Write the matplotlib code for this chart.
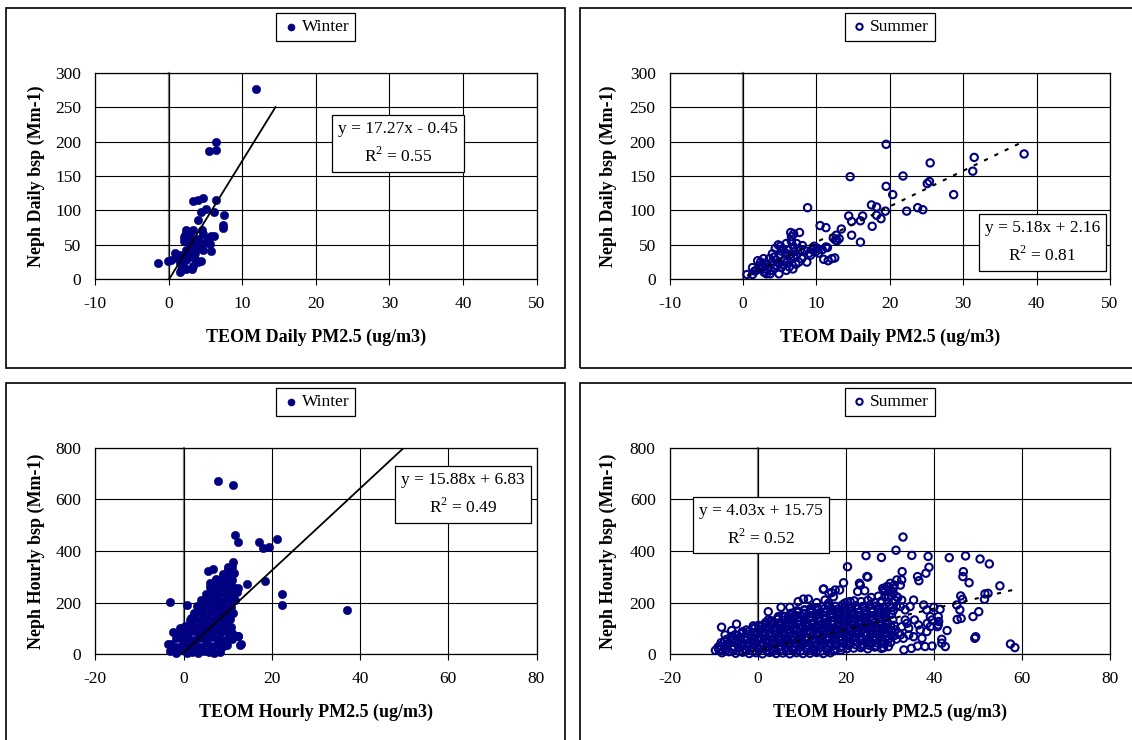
import numpy as np
import matplotlib
matplotlib.use("Agg")
import matplotlib.pyplot as plt
from matplotlib.patches import Rectangle

plt.rcParams["font.family"] = ["Liberation Serif", "DejaVu Serif"]
plt.rcParams["mathtext.fontset"] = "custom"
plt.rcParams["mathtext.rm"] = "Liberation Serif"
plt.rcParams["axes.unicode_minus"] = False

NAVY = "#000080"

# ---- Winter, daily averages (TEOM PM2.5 vs nephelometer bsp)
winter_daily_x = [11.9, 6.45, 5.4, 6.45, 3.3, 4.0, 4.6, 6.4, 5.1, 4.4, 6.2, 7.5, 4.0, 7.3, 7.4,
                  2.4, 3.25, 4.5, 2.2, 2.9, 4.6, 5.75, 3.4, 4.0, 2.0, 5.3, 4.8, 5.7, 3.7, 4.4, 2.4,
                  1.5, 1.1, 0.8, 2.6, 3.25, -1.45, -0.1, 0.35, 1.5, 1.9, 1.7, 2.4, 3.1, 3.3, 4.0, 4.4,
                  1.5, 2.9, 3.6, 2.7, 3.1, 5.6, 4.7, 6.1, 2.3, 1.2, 2.1, 2.8, 3.5]
winter_daily_y = [277, 200, 186, 188, 113, 115, 118, 115, 102, 97, 97, 94, 86, 79, 74,
                  72, 71, 71, 64, 63, 66, 63, 57, 58, 55, 57, 52, 41, 48, 45, 43,
                  36, 31, 38, 33, 33, 24, 27, 28, 23, 18, 13, 15, 15, 20, 25, 26,
                  11, 47, 38, 38, 42, 51, 42, 63, 28, 34, 62, 55, 30]

# ---- Summer, daily averages
summer_daily_x = [19.5, 38.3, 31.5, 31.3, 25.5, 14.6, 21.8, 25.4, 25.1, 19.5, 28.7, 20.4, 17.5, 18.2, 8.8,
                  23.8, 24.5, 22.3, 19.4, 18.2, 18.8, 14.4, 16.3, 16.0, 14.8, 17.6, 10.5, 11.3, 13.4, 6.5,
                  6.9, 7.7, 14.8, 16.0, 12.7, 13.1, 12.6, 12.3, 12.8, 8.7, 11.0, 11.6, 12.1, 12.5,
                  0.55, 1.3, 1.3, 2.0, 2.8, 1.8, 2.5, 3.0, 3.0, 3.7, 3.5, 4.0, 4.0, 4.4, 4.8, 5.1, 5.1, 4.9, 5.2, 5.5,
                  5.9, 6.2, 6.6, 6.9, 7.3, 6.5, 6.9, 6.8, 6.3, 7.6, 8.1, 8.4, 9.2, 9.4, 9.6, 9.9, 10.1, 10.8, 11.3, 11.5,
                  2.2, 2.9, 3.3, 3.8, 4.3, 4.5, 4.2, 5.6, 5.8, 6.0, 6.4, 7.0, 7.3, 7.8, 5.4, 3.6, 2.4, 1.6, 4.6, 7.2,
                  6.6, 5.2, 8.0, 9.0, 10.3, 9.7, 4.9, 3.2, 2.6, 5.9]
summer_daily_y = [196, 182, 177, 157, 169, 149, 150, 142, 139, 135, 123, 123, 108, 105, 104,
                  104, 101, 99, 99, 93, 88, 92, 92, 85, 84, 77, 78, 75, 73, 68,
                  66, 68, 64, 54, 64, 59, 57, 60, 56, 25, 29, 27, 30, 31,
                  7, 7, 17, 27, 30, 13, 21, 23, 11, 8, 18, 37, 25, 45, 50, 48, 35, 23, 17, 21,
                  52, 43, 55, 47, 52, 30, 33, 15, 18, 25, 49, 42, 35, 43, 45, 40, 45, 43, 47, 46,
                  15, 10, 14, 13, 16, 28, 32, 28, 38, 25, 36, 40, 35, 42, 44, 30, 25, 12, 20, 22,
                  62, 41, 30, 38, 38, 48, 8, 8, 18, 13]

# ---- Winter, hourly values (isolated points first, then the dense cloud row by row)
winter_hourly_x = [7.9, 11.3, 11.6, 12.3, 17.0, 17.9, 19.4, 21.1, 18.4, 22.3, 22.4, 37.0, -3.1, 0.7, 11.2,
                   10.0, 11.2, 14.4, 5.5, 6.6, 7.4, 12.3, 13.0, 9.4, -3.5, -2.5, -0.7, 12.2, 12.4, 12.9, 1.8, 6.1,
                   -3.0, -1.8, -0.5, 0.8, 2.0, 3.3, 4.6, 5.8, 7.0, 8.2,
                   -2.8, -1.4, -0.1, 1.2, 2.5, 3.8, 5.0, 6.3, 7.6, 8.8, 9.9,
                   -1.6, -0.3, 1.0, 2.3, 3.6, 4.9, 6.2, 7.5, 8.8, 10.0, 11.0,
                   -0.6, 0.7, 2.0, 3.3, 4.6, 5.9, 7.2, 8.5, 9.8, 11.0,
                   0.4, 1.7, 3.0, 4.3, 5.6, 6.9, 8.2, 9.5, 10.8,
                   1.4, 2.7, 4.0, 5.3, 6.6, 7.9, 9.2, 10.5,
                   2.3, 3.6, 4.9, 6.2, 7.5, 8.8, 10.1, 11.2,
                   3.1, 4.4, 5.7, 7.0, 8.3, 9.6, 10.8,
                   4.0, 5.3, 6.6, 7.9, 9.2, 10.5, 11.6,
                   5.0, 6.3, 7.6, 8.9, 10.2, 11.4,
                   6.0, 7.3, 8.6, 9.9, 11.1, 12.3,
                   7.2, 8.5, 9.8, 11.0,
                   9.0, 10.3, 11.4,
                   10.0, 10.9]
winter_hourly_y = [671, 657, 462, 436, 435, 410, 417, 448, 283, 232, 191, 172, 201, 191, 356,
                   337, 316, 272, 324, 329, 293, 72, 39, 36, 40, 88, 101, 243, 71, 36, 139, 275,
                   12, 6, 15, 4, 10, 5, 13, 7, 4, 10,
                   38, 30, 40, 33, 36, 29, 42, 34, 37, 30, 36,
                   62, 58, 65, 57, 63, 59, 66, 60, 56, 63, 58,
                   88, 83, 90, 84, 87, 82, 89, 85, 90, 82,
                   108, 114, 107, 112, 109, 115, 108, 112, 106,
                   133, 138, 131, 137, 134, 139, 132, 136,
                   158, 163, 157, 162, 159, 164, 157, 161,
                   186, 182, 188, 183, 187, 181, 185,
                   209, 213, 207, 212, 208, 214, 210,
                   233, 238, 232, 237, 234, 239,
                   262, 257, 263, 258, 261, 256,
                   284, 289, 283, 288,
                   311, 306, 313,
                   332, 338]

# ---- Summer, hourly values: scattered points
summer_hourly_out_x = [33.0, 31.4, 24.6, 28.1, 35.0, 38.7, 43.5, 47.2, 50.5, 52.6, 20.4, 38.9, 38.2, 32.8, 46.7,
                       46.6, 36.3, 36.6, 48.0, 25.0, 19.5, 55.0, 51.6, 52.3, 51.5, 46.1, 46.5, 15.0, 16.2, 17.2,
                       23.1, 24.3, 18.6, 35.4, 45.2, 45.9, 45.3, 46.2, 48.9, 50.2, 49.3, 49.5, 57.4, 58.4, 43.0,
                       41.8, 42.6, 41.0, 39.6, 38.0, 36.3, 34.9, 33.2, 28.6, 38.5, 41.0, 41.4, 37.7, 40.0, -8.2,
                       -5.9, -4.8, -7.4, -1.0, 2.4, 5.3, 7.3, 9.2, 10.4, 11.5, 13.4, 2.4, 14.9, 16.8, 17.6,
                       15.3, 16.1, 19.8, 21.0, -4.4, 0.5, 4.7, 7.0, 8.9, 10.6, 12.3, 22.7, 23.3, 24.8, 34.6,
                       35.6, 36.5, 36.9, 34.3, 38.4, 39.2, 39.6, 39.2, 38.4, 35.4, 37.3, 41.8, 40.8, 41.1,
                       30.1, 29.3, 28.6, 31.6, 32.4, 30.8, 29.7, 31.6, 32.7, 32.4, 33.5, 33.5, 32.7, 33.9, 32.4,
                       33.1, 34.3, 32.7]
summer_hourly_out_y = [454, 403, 382, 375, 383, 379, 374, 381, 369, 350, 339, 337, 314, 320, 320,
                       301, 301, 285, 277, 299, 277, 265, 234, 236, 213, 226, 213, 253, 236, 223,
                       275, 246, 249, 210, 191, 172, 135, 139, 146, 165, 62, 68, 40, 26, 92,
                       58, 30, 114, 32, 30, 32, 23, 17, 26, 120, 146, 174, 191, 182, 105,
                       92, 117, 75, 110, 165, 182, 182, 204, 214, 214, 200, 133, 252, 239, 249,
                       210, 198, 198, 204, 62, 94, 146, 146, 168, 172, 174, 243, 268, 301, 185,
                       133, 114, 94, 75, 172, 146, 133, 107, 88, 68, 62, 43, 107, 127,
                       275, 262, 249, 288, 268, 256, 223, 223, 210, 185, 172, 133, 107, 120, 75,
                       62, 101, 288]

# ---- Summer, hourly values: the dense cloud, row by row
summer_hourly_core_x = [
    -9.6, -8.1, -6.5, -5.0, -3.4, -1.9, -0.4, 1.1, 2.7, 4.2, 5.7, 7.3, 8.8, 10.3, 11.9, 13.4, 14.9, 16.5,
    -8.8, -7.3, -5.7, -4.2, -2.6, -1.1, 0.4, 2.0, 3.5, 5.0, 6.6, 8.1, 9.7, 11.2, 12.7, 14.3, 15.8, 17.4, 18.9,
    -9.0, -7.4, -5.8, -4.3, -2.7, -1.2, 0.3, 1.9, 3.4, 4.9, 6.5, 8.0, 9.6, 11.1, 12.6, 14.2, 15.7, 17.3,
    18.8, 20.3, 21.8, 23.4, 25.0, 26.6, 28.1, 29.7,
    -8.6, -7.0, -5.5, -3.9, -2.4, -0.8, 0.7, 2.2, 3.8, 5.3, 6.9, 8.4, 9.9, 11.5, 13.0, 14.6, 16.1, 17.6,
    19.2, 20.7, 22.3, 23.8, 25.3, 26.9,
    -8.3, -6.7, -5.2, -3.6, -2.1, -0.5, 1.0, 2.6, 4.1, 5.6, 7.2, 8.7, 10.3, 11.8, 13.3, 14.9, 16.4, 18.0,
    19.5, 21.0, 22.6, 24.1, 25.6, 27.1, 28.7, 30.2,
    -7.5, -6.0, -4.4, -2.9, -1.3, 0.2, 1.8, 3.3, 4.8, 6.4, 7.9, 9.5, 11.0, 12.5, 14.1, 15.6, 17.2, 18.7,
    20.2, 21.8, 23.3, 24.9, 26.4, 27.9, 29.5,
    -7.0, -5.5, -3.9, -2.4, -0.8, 0.7, 2.2, 3.8, 5.3, 6.9, 8.4, 9.9, 11.5, 13.0, 14.6, 16.1, 17.6, 19.2,
    20.7, 22.3, 23.8, 25.3, 26.9, 28.4, 29.9, 31.5,
    -6.0, -4.5, -2.9, -1.4, 0.2, 1.7, 3.2, 4.8, 6.3, 7.9, 9.4, 10.9, 12.5, 14.0, 15.6, 17.1, 18.6, 20.2,
    21.7, 23.3, 24.8, 26.3, 27.9, 29.4, 31.0,
    -5.1, -3.5, -2.0, -0.4, 1.1, 2.6, 4.2, 5.7, 7.3, 8.8, 10.3, 11.9, 13.4, 15.0, 16.5, 18.0, 19.6, 21.1,
    22.7, 24.2, 25.7, 27.3, 28.8, 30.4, 31.9,
    -3.5, -1.9, -0.4, 1.2, 2.7, 4.2, 5.8, 7.3, 8.9, 10.4, 11.9, 13.5, 15.0, 16.6, 18.1, 19.6, 21.2, 22.7,
    24.3, 25.8, 27.3, 28.9, 30.4,
    -2.6, -1.0, 0.5, 2.0, 3.6, 5.1, 6.7, 8.2, 9.7, 11.3, 12.8, 14.4, 15.9, 17.4, 19.0, 20.5, 22.1, 23.6,
    25.1, 26.7, 28.2, 29.8, 31.3,
    -0.6, 0.9, 2.5, 4.0, 5.6, 7.1, 8.6, 10.2, 11.7, 13.3, 14.8, 16.3, 17.9, 19.4, 21.0, 22.5, 24.0, 25.6,
    27.1, 28.7, 30.2,
    0.2, 1.7, 3.2, 4.8, 6.3, 7.9, 9.4, 10.9, 12.5, 14.0, 15.6, 17.1, 18.6, 20.2, 21.7, 23.3, 24.8, 26.3,
    27.9, 29.4, 31.0,
    1.8, 3.4, 4.9, 6.5, 8.0, 9.5, 11.1, 12.6, 14.2, 15.7, 17.2, 18.8, 20.3, 21.9, 23.4, 24.9, 26.5, 28.0,
    29.6,
    3.0, 4.5, 6.0, 7.6, 9.1, 10.7, 12.2, 13.7, 15.3, 16.8, 18.4, 19.9, 21.4, 23.0, 24.5, 26.1, 27.6, 29.1,
    30.7,
    4.6, 6.1, 7.7, 9.2, 10.8, 12.3, 13.8, 15.4, 16.9, 18.5, 20.0, 21.5, 23.1, 24.6, 26.2, 27.7, 29.2,
    5.8, 7.3, 8.8, 10.4, 11.9, 13.5, 15.0, 16.5, 18.1, 19.6, 21.2, 22.7, 24.2, 25.8, 27.3, 28.9, 30.4,
    7.6, 9.1, 10.6, 12.2, 13.7, 15.3, 16.8, 18.3, 19.9, 21.4, 23.0, 24.5, 26.0, 27.6, 29.1,
    9.2, 10.7, 12.3, 13.8, 15.4, 16.9, 18.4, 20.0, 21.5, 23.1, 24.6, 26.1, 27.7, 29.2, 30.8,
    12.0, 13.5, 15.1, 16.6, 18.2, 19.7, 21.2, 22.8, 24.3, 25.9, 27.4, 28.9, 30.5,
    14.6, 16.1, 17.7, 19.2, 20.8, 22.3, 23.8, 25.4, 26.9, 28.5, 30.0, 31.5,
    20.4, 21.9, 23.5, 25.0, 26.6, 28.1, 29.6, 31.2,
    25.8, 27.4, 28.9, 30.4, 31.8,
    28.9, 30.3, 29.6, 31.0, 28.4, 30.8]
summer_hourly_core_y = [
    15, 6, 10, 4, 8, 3, 6, 2, 7, 3, 5, 2, 6, 3, 4, 7, 3, 6,
    17, 14, 18, 12, 16, 13, 18, 15, 12, 17, 14, 16, 13, 18, 15, 12, 17, 14, 16,
    27, 22, 29, 24, 20, 28, 23, 26, 21, 29, 24, 22, 28, 25, 21, 27, 23, 19,
    26, 22, 24, 26, 21, 28, 23, 30,
    33, 36, 31, 35, 32, 37, 34, 30, 36, 33, 35, 31, 37, 34, 32, 36, 33, 35,
    31, 34, 37, 32, 35, 33,
    45, 40, 47, 42, 38, 46, 41, 44, 39, 47, 42, 40, 45, 43, 38, 46, 41, 39,
    44, 40, 46, 38, 42, 44, 40, 46,
    51, 54, 50, 53, 49, 55, 52, 50, 54, 51, 53, 49, 55, 52, 50, 54, 51, 53,
    49, 52, 55, 50, 53, 51, 54,
    58, 63, 60, 65, 57, 62, 59, 64, 61, 56, 63, 60, 65, 58, 62, 59, 64, 57,
    61, 66, 60, 58, 63, 56, 62, 59,
    69, 72, 68, 71, 67, 73, 70, 68, 72, 69, 71, 67, 73, 70, 68, 72, 69, 71,
    67, 70, 73, 68, 71, 69, 72,
    76, 81, 78, 83, 75, 80, 77, 82, 79, 74, 81, 78, 84, 76, 80, 77, 83, 75,
    79, 82, 76, 80, 78, 74, 81,
    87, 90, 86, 89, 85, 91, 88, 86, 90, 87, 89, 85, 91, 88, 86, 90, 87, 89,
    85, 88, 91, 86, 89,
    94, 99, 96, 101, 93, 98, 95, 100, 97, 92, 99, 96, 102, 94, 98, 95, 101, 93,
    97, 100, 94, 98, 95,
    105, 108, 104, 107, 103, 109, 106, 104, 108, 105, 107, 103, 109, 106, 104, 108, 105, 107,
    103, 106, 109,
    112, 117, 114, 119, 111, 116, 113, 118, 115, 110, 117, 114, 120, 112, 116, 113, 119, 111,
    115, 118, 112,
    123, 126, 122, 125, 121, 127, 124, 122, 126, 123, 125, 121, 127, 124, 122, 126, 123, 125,
    121,
    130, 135, 132, 137, 129, 134, 131, 136, 133, 128, 135, 132, 138, 130, 134, 131, 137, 129,
    133,
    141, 144, 140, 143, 139, 145, 142, 140, 144, 141, 143, 139, 145, 142, 140, 144, 141,
    148, 153, 150, 155, 147, 152, 149, 154, 151, 146, 153, 150, 156, 148, 152, 149, 155,
    159, 162, 158, 161, 157, 163, 160, 158, 162, 159, 161, 157, 163, 160, 158,
    166, 171, 168, 173, 165, 170, 167, 172, 169, 164, 171, 168, 174, 166, 170,
    177, 180, 176, 179, 175, 181, 178, 176, 180, 177, 179, 175, 181,
    184, 189, 186, 191, 183, 188, 185, 190, 187, 182, 189, 186,
    202, 207, 204, 209, 201, 206, 203, 208,
    220, 225, 222, 227, 219,
    242, 248, 262, 268, 255, 236]

summer_hourly_x = summer_hourly_out_x + summer_hourly_core_x
summer_hourly_y = summer_hourly_out_y + summer_hourly_core_y

# ---- Linear fits as printed on the chart, and the x-span of each trend line
fit_slope = [17.27, 5.18, 15.88, 4.03]
fit_icept = [-0.45, 2.16, 6.83, 15.75]
fit_r2 = [0.55, 0.81, 0.49, 0.52]
fit_span = [[0.03, 14.5], [0.55, 38.3], [-0.43, 49.95], [-3.9, 58.6]]

W, H = 1132, 740
fig = plt.figure(figsize=(W / 100, H / 100), dpi=100)


def px_rect(l, t, r, b):
    return [l / W, 1 - b / H, (r - l) / W, (b - t) / H]


# panel frames
for l, t, r, b in [(6, 8, 565, 368), (580, 8, 1150, 368), (6, 383, 565, 760), (580, 383, 1150, 760)]:
    fig.add_artist(Rectangle((l / W, 1 - b / H), (r - l) / W, (b - t) / H, transform=fig.transFigure,
                             fill=False, ec="black", lw=1.2))

panels = [
    dict(rect=(95.3, 72.7, 536.5, 279.3), x=winter_daily_x, y=winter_daily_y, filled=True, label="Winter",
         xlim=(-10, 50), xstep=10, ylim=(0, 300), ystep=50, dotted=False, eq=(0.686, 0.657),
         xlabel="TEOM Daily PM2.5 (ug/m3)", ylabel="Neph Daily bsp (Mm-1)", ylx=-0.134),
    dict(rect=(669.6, 72.7, 1110.0, 279.3), x=summer_daily_x, y=summer_daily_y, filled=False, label="Summer",
         xlim=(-10, 50), xstep=10, ylim=(0, 300), ystep=50, dotted=True, eq=(0.847, 0.178),
         xlabel="TEOM Daily PM2.5 (ug/m3)", ylabel="Neph Daily bsp (Mm-1)", ylx=-0.138),
    dict(rect=(95.3, 447.7, 536.5, 654.3), x=winter_hourly_x, y=winter_hourly_y, filled=True, label="Winter",
         xlim=(-20, 80), xstep=20, ylim=(0, 800), ystep=200, dotted=False, eq=(0.833, 0.773),
         xlabel="TEOM Hourly PM2.5 (ug/m3)", ylabel="Neph Hourly bsp (Mm-1)", ylx=-0.134),
    dict(rect=(669.6, 447.7, 1110.0, 654.3), x=summer_hourly_x, y=summer_hourly_y, filled=False, label="Summer",
         xlim=(-20, 80), xstep=20, ylim=(0, 800), ystep=200, dotted=True, eq=(0.2075, 0.626),
         xlabel="TEOM Hourly PM2.5 (ug/m3)", ylabel="Neph Hourly bsp (Mm-1)", ylx=-0.138),
]

for i, p in enumerate(panels):
    ax = fig.add_axes(px_rect(*p["rect"]))
    ax.set_xlim(*p["xlim"])
    ax.set_ylim(*p["ylim"])
    ax.set_xticks(np.arange(p["xlim"][0], p["xlim"][1] + 1, p["xstep"]))
    ax.set_yticks(np.arange(p["ylim"][0], p["ylim"][1] + 1, p["ystep"]))
    ax.grid(True, color="black", lw=0.8)
    ax.set_axisbelow(True)
    for s in ax.spines.values():
        s.set_color("black")
        s.set_linewidth(0.9)
    ax.tick_params(axis="x", direction="out", length=4, width=0.8, pad=8, labelsize=12.5)
    ax.tick_params(axis="y", length=0, pad=10, labelsize=12.5)

    # value axis crosses at x = 0, as in the spreadsheet original
    sec = ax.secondary_yaxis(0, transform=ax.transData)
    sec.tick_params(axis="y", direction="out", length=4, width=0.8, labelleft=False, labelright=False)
    for s in sec.spines.values():
        s.set_color("#808080")
        s.set_linewidth(1.6)

    if p["filled"]:
        ax.scatter(p["x"], p["y"], s=36, c=NAVY, edgecolors=NAVY, linewidths=0.4,
                   label=p["label"], zorder=3, clip_on=False)
    else:
        ax.scatter(p["x"], p["y"], s=28, facecolors="none", edgecolors=NAVY, linewidths=1.5,
                   label=p["label"], zorder=3, clip_on=False)

    xs = np.array(fit_span[i])
    ax.plot(xs, fit_slope[i] * xs + fit_icept[i], color="black", lw=1.5 if p["dotted"] else 1.3,
            ls=(0, (2, 3.5)) if p["dotted"] else "-", zorder=4)

    sign = "+" if fit_icept[i] >= 0 else "-"
    eq = "y = %.2fx %s %.2f\nR$^2$ = %.2f" % (fit_slope[i], sign, abs(fit_icept[i]), fit_r2[i])
    ax.text(p["eq"][0], p["eq"][1], eq, transform=ax.transAxes, ha="center", va="center",
            fontsize=12.5, linespacing=1.6, multialignment="center", zorder=6,
            bbox=dict(boxstyle="square,pad=0.35", fc="white", ec="black", lw=0.9))

    leg = ax.legend(loc="center", bbox_to_anchor=(0.5, 1.22), fontsize=12.5, frameon=True,
                    fancybox=False, edgecolor="black", framealpha=1, handletextpad=0.1,
                    borderpad=0.35, handlelength=1.0, borderaxespad=0, markerscale=0.85)
    leg.get_frame().set_linewidth(0.9)

    ax.set_xlabel(p["xlabel"], fontsize=13, fontweight="bold")
    ax.set_ylabel(p["ylabel"], fontsize=13, fontweight="bold")
    ax.xaxis.set_label_coords(0.5, -0.283)
    ax.yaxis.set_label_coords(p["ylx"], 0.5)
    ax.xaxis.label.set_verticalalignment("center")
    ax.yaxis.label.set_verticalalignment("center")

fig.savefig("out.png", dpi=100)
